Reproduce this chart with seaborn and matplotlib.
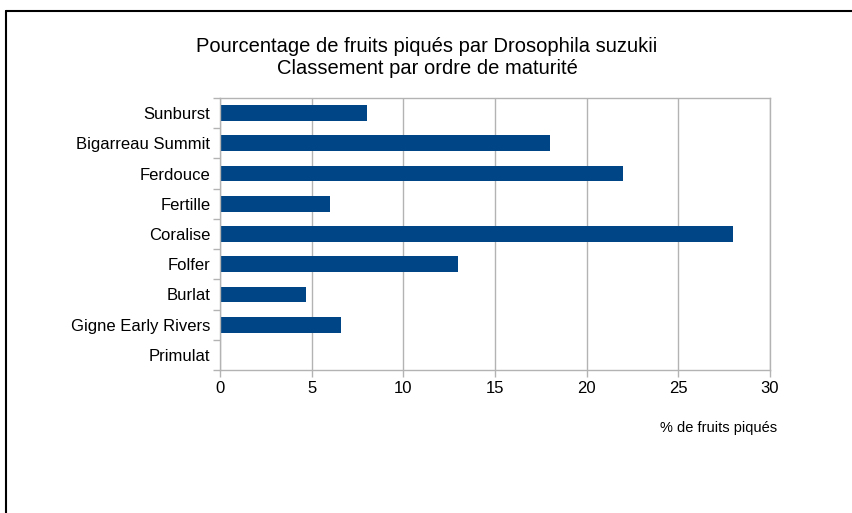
import pandas as pd
import numpy as np
import matplotlib
matplotlib.use('Agg')
import matplotlib.pyplot as plt
import seaborn as sns
from matplotlib.lines import Line2D

# varieties, ordered by maturity (top to bottom)
varietes = ['Sunburst', 'Bigarreau Summit', 'Ferdouce', 'Fertille', 'Coralise',
            'Folfer', 'Burlat', 'Gigne Early Rivers', 'Primulat']
pct_piques = [8, 18, 22, 6, 28, 13, 4.7, 6.6, 0]

df = pd.DataFrame({'variete': varietes, 'pct': pct_piques})

sns.set_theme(style='white')
plt.rcParams['font.family'] = ['Liberation Sans', 'DejaVu Sans']
plt.rcParams['text.color'] = 'black'

W, H = 853, 513
fig = plt.figure(figsize=(W / 100, H / 100), dpi=100)
ax = fig.add_axes([220 / W, 1 - 370 / H, 550 / W, 272 / H])

sns.barplot(x='pct', y='variete', data=df, orient='h', color='#004586',
            width=0.52, saturation=1, linewidth=0, ax=ax)

grid_c = '#b3b3b3'
ax.set_xlim(0, 30)
ax.set_ylim(len(varietes) - 0.5, -0.5)
ax.set_xticks(np.arange(0, 31, 5))
ax.xaxis.grid(True, color=grid_c, linewidth=1)
ax.set_axisbelow(True)
for s in ax.spines.values():
    s.set_color(grid_c)
    s.set_linewidth(1)

ax.set_yticks(np.arange(len(varietes)))
ax.set_yticks(np.arange(len(varietes) + 1) - 0.5, minor=True)
ax.tick_params(axis='y', which='major', length=0, pad=7, labelsize=12, labelcolor='black')
ax.tick_params(axis='y', which='minor', length=5, width=1, color=grid_c, left=True)
ax.tick_params(axis='x', which='major', length=5, width=1, color=grid_c, bottom=True,
               labelsize=12, labelcolor='black', pad=3)
ax.set_xlabel('')
ax.set_ylabel('')

fig.text(427 / W, 1 - 57 / H, 'Pourcentage de fruits piqués par Drosophila suzukii\nClassement par ordre de maturité',
         ha='center', va='center', fontsize=14.5, linespacing=1.2, color='black')
fig.text(719 / W, 1 - 428 / H, '% de fruits piqués', ha='center', va='center', fontsize=10.5,
         color='black')

# outer frame (top and left edges visible)
fig.add_artist(Line2D([6.5 / W, 1], [1 - 11 / H, 1 - 11 / H], color='black', linewidth=1.5))
fig.add_artist(Line2D([6.5 / W, 6.5 / W], [0, 1 - 11 / H], color='black', linewidth=1.5))

fig.savefig('out.png', dpi=100)
